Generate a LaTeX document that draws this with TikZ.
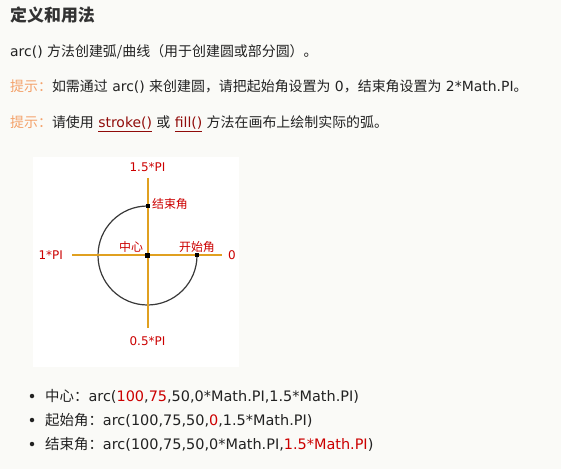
\documentclass[tikz,border=0pt]{standalone}
\usepackage{fontspec}
\usepackage{xcolor}
\usepackage{tikz}
\setmainfont{DejaVu Sans}
\newfontfamily\cjk{Noto Sans CJK SC}
\definecolor{pagebg}{HTML}{FAFAF7}
\definecolor{textcol}{HTML}{222222}
\definecolor{titlecol}{HTML}{333333}
\definecolor{tipcol}{HTML}{F4A26B}
\definecolor{linkcol}{HTML}{900B09}
\definecolor{labred}{HTML}{CC0000}
\definecolor{axiscol}{HTML}{E0A020}
\definecolor{arccol}{HTML}{3A3A3A}
\newcommand\lnk[1]{\textcolor{linkcol}{\underline{#1}}}
\newcommand\hl[1]{\textcolor{labred}{#1}}
\tikzset{%
    txt/.style={anchor=base west, inner sep=0pt, text=textcol, font=\fontsize{14}{17}\selectfont},
    item/.style={anchor=base west, inner sep=0pt, text=textcol, font=\fontsize{14.5}{17}\selectfont},
    lbl/.style={inner sep=0pt, text=labred, font=\fontsize{12}{14}\selectfont},
    axisline/.style={draw=axiscol, line width=2bp},
    arcline/.style={draw=arccol, line width=1.2bp},
    dot/.style={fill=black, inner sep=0pt, minimum size=4bp},
    bullet/.style={circle, fill=textcol, inner sep=0pt, minimum size=4.5bp}
}

\begin{document}
\begin{tikzpicture}[x=1bp,y=-1bp]

    \fill[pagebg] (0,0) rectangle (561,469);
    \useasboundingbox (0,0) rectangle (561,469);

    \node[txt, text=titlecol, font=\fontsize{17}{20}\selectfont\cjk\bfseries] (title) at (10,22) {定义和用法};
    \node[txt] (intro) at (10,57) {arc() {\cjk 方法创建弧/曲线（用于创建圆或部分圆）。}};
    \node[txt] (tipa) at (10,92) {{\cjk\color{tipcol}提示：}{\cjk 如需通过} arc() {\cjk 来创建圆，请把起始角设置为} 0{\cjk ，结束角设置为} 2*Math.PI{\cjk 。}};
    \node[txt] (tipb) at (10,128) {{\cjk\color{tipcol}提示：}{\cjk 请使用} \lnk{stroke()} {\cjk 或} \lnk{fill()} {\cjk 方法在画布上绘制实际的弧。}};

    \fill[white] (33,157) rectangle (239,367);

    \coordinate (O) at (147.5,255.5);
    \coordinate (xl) at (72,255.5);
    \coordinate (xr) at (222,255.5);
    \coordinate (yt) at (147.5,178);
    \coordinate (yb) at (147.5,328);
    \coordinate (start) at (197,255.5);
    \coordinate (stop) at (147.5,206);

    \draw[arcline] (start) arc[start angle=0, end angle=-270, radius=49.5bp];
    \draw[axisline] (xl) -- (xr);
    \draw[axisline] (yt) -- (yb);

    \node[dot, minimum size=5bp] (cdot) at (O) {};
    \node[dot] (sdot) at (start) {};
    \node[dot] (edot) at (stop) {};

    \node[lbl] (pihalf3) at (147.5,167) {1.5*PI};
    \node[lbl] (pihalf) at (147.5,341) {0.5*PI};
    \node[lbl] (pione) at (50.7,255.5) {1*PI};
    \node[lbl] (zero) at (232,255.5) {0};
    \node[lbl] (lcenter) at (131,247) {\cjk 中心};
    \node[lbl] (lstart) at (197,247) {\cjk 开始角};
    \node[lbl] (lend) at (170,204) {\cjk 结束角};

    \node[bullet] (ba) at (32,396) {};
    \node[bullet] (bb) at (32,420) {};
    \node[bullet] (bc) at (32,444) {};
    \node[item] (ia) at (45,401) {{\cjk 中心：}arc(\hl{100},\hl{75},50,0*Math.PI,1.5*Math.PI)};
    \node[item] (ib) at (45,425) {{\cjk 起始角：}arc(100,75,50,\hl{0},1.5*Math.PI)};
    \node[item] (ic) at (45,449) {{\cjk 结束角：}arc(100,75,50,0*Math.PI,\hl{1.5*Math.PI})};

\end{tikzpicture}
\end{document}
